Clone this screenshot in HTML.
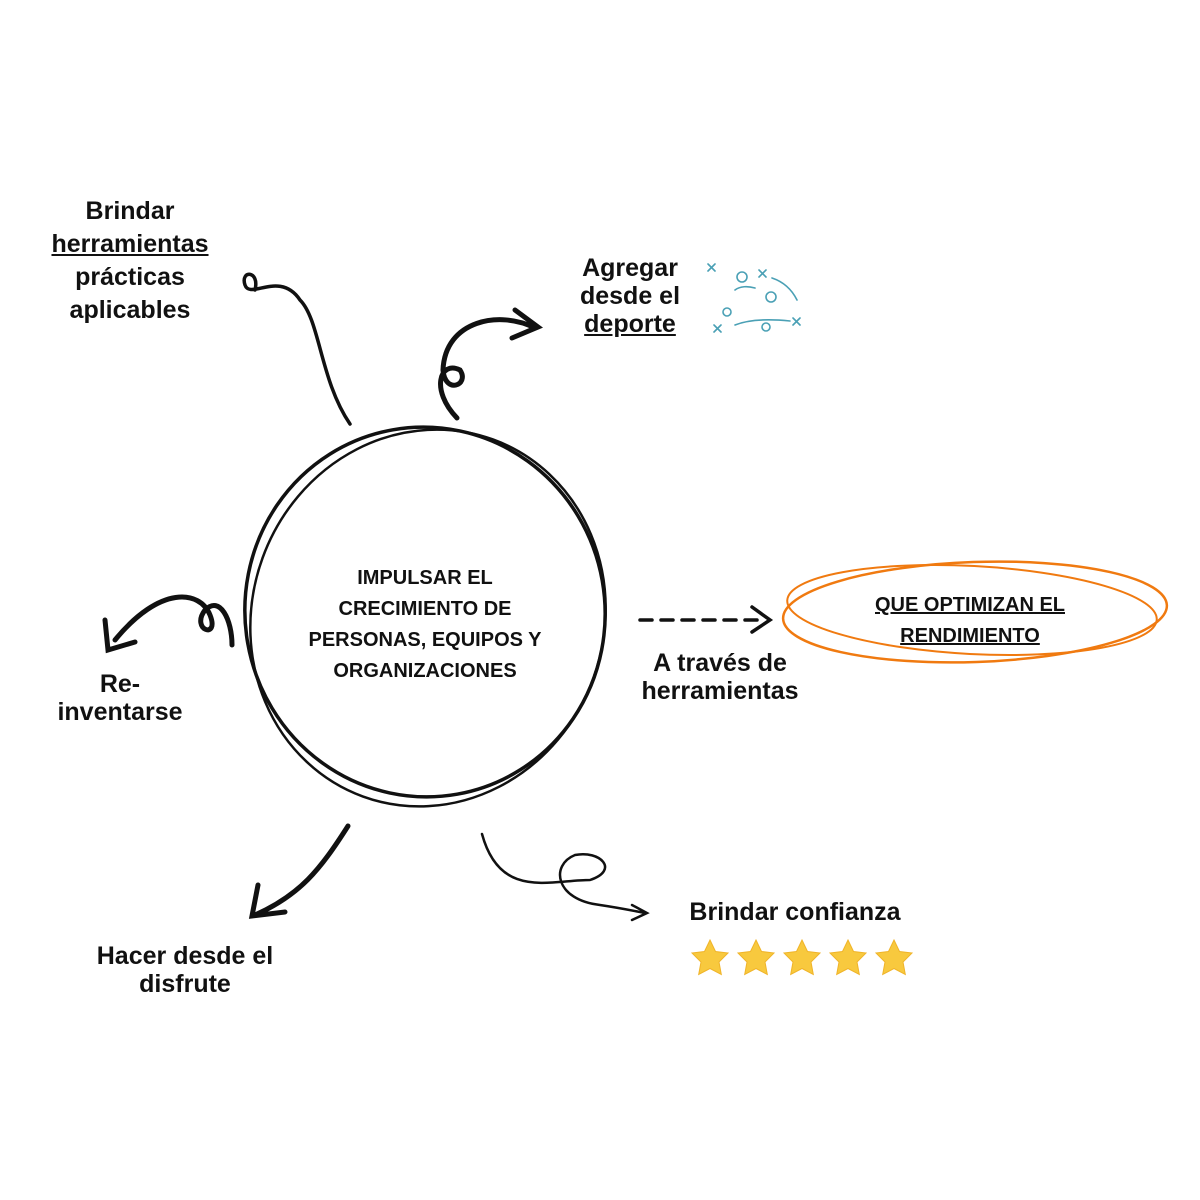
<!DOCTYPE html>
<html><head><meta charset="utf-8"><style>
body{margin:0;width:1200px;height:1200px;background:#fff;position:relative;overflow:hidden;font-family:"Liberation Sans",sans-serif;color:#111}
.t{position:absolute;text-align:center;font-size:25px;line-height:30px;font-weight:bold}
.u{text-decoration:underline}
</style></head><body>
<svg width="1200" height="1200" style="position:absolute;left:0;top:0" fill="none" stroke="#111" stroke-width="3.5" stroke-linecap="round">
<ellipse cx="425" cy="612" rx="180" ry="185" transform="rotate(-10 425 612)"/>
<ellipse cx="428" cy="618" rx="176" ry="190" transform="rotate(20 428 618)" stroke-width="2.5"/>
<path d="M350 424 C320 380 320 320 300 300 C280 270 250 300 245 285 C240 270 260 270 255 290"/>
<path d="M457 418 C430 390 440 360 460 370 C470 385 445 395 443 370 C445 320 500 310 535 328 M515 310 L538 327 L512 338" stroke-width="5"/>
<path d="M232 645 C232 620 220 595 205 610 C190 630 220 640 210 615 C200 590 160 585 115 640 M105 620 L108 650 L135 642" stroke-width="5"/>
<path d="M348 826 C320 870 300 895 255 915 M258 885 L252 916 L285 912" stroke-width="5"/>
<path d="M482 834 C500 900 550 880 590 880 C620 870 600 850 575 855 C550 865 555 900 600 905 C620 908 640 912 645 913 M632 905 L647 913 L632 920" stroke-width="2.5"/>
<path d="M640 620 L765 620" stroke-dasharray="12 9"/>
<path d="M752 607 L770 620 L752 632"/>
<ellipse cx="975" cy="612" rx="192" ry="50" stroke="#f07a10" stroke-width="2.5" transform="rotate(-2 975 612)"/>
<ellipse cx="972" cy="610" rx="185" ry="44" stroke="#f07a10" stroke-width="2" transform="rotate(3 972 610)"/>
<g stroke="#4aa0b5" stroke-width="1.6"><circle cx="742" cy="277" r="5"/><circle cx="771" cy="297" r="5"/><circle cx="727" cy="312" r="4"/><circle cx="766" cy="327" r="4"/>
<path d="M708 264l7 7M715 264l-7 7M759 270l7 7M766 270l-7 7M714 325l7 7M721 325l-7 7M793 318l7 7M800 318l-7 7"/>
<path d="M735 290c5 -4 13 -4 20 -2M772 278c12 4 20 12 25 22M735 325c15 -6 35 -6 55 -4"/></g>
<g fill="#f8c93e" stroke="#f0b429" stroke-width="1">
<path id="s" d="M710 940l5.5 11.5 12.5 1.5-9 9 2.3 12.5-11.3-6-11.3 6 2.3-12.5-9-9 12.5-1.5z"/>
<use href="#s" x="46"/><use href="#s" x="92"/><use href="#s" x="138"/><use href="#s" x="184"/></g>
</svg>
<div class="t" style="left:20px;top:195px;width:220px;line-height:33px">Brindar<br><span class="u">herramientas</span><br>prácticas<br>aplicables</div>
<div class="t" style="left:560px;top:254px;width:140px;line-height:28px">Agregar<br>desde el<br><span class="u">deporte</span></div>
<div class="t" style="left:270px;top:563px;width:310px;font-size:20px;line-height:31px">IMPULSAR EL<br>CRECIMIENTO DE<br>PERSONAS, EQUIPOS Y<br>ORGANIZACIONES</div>
<div class="t" style="left:790px;top:590px;width:360px;font-size:20px;line-height:31px"><span class="u">QUE OPTIMIZAN EL</span><br><span class="u">RENDIMIENTO</span></div>
<div class="t" style="left:620px;top:649px;width:200px;line-height:28px">A través de<br>herramientas</div>
<div class="t" style="left:30px;top:670px;width:180px;line-height:28px">Re-<br>inventarse</div>
<div class="t" style="left:70px;top:942px;width:230px;line-height:28px">Hacer desde el<br>disfrute</div>
<div class="t" style="left:665px;top:897px;width:260px">Brindar confianza</div>
</body></html>
